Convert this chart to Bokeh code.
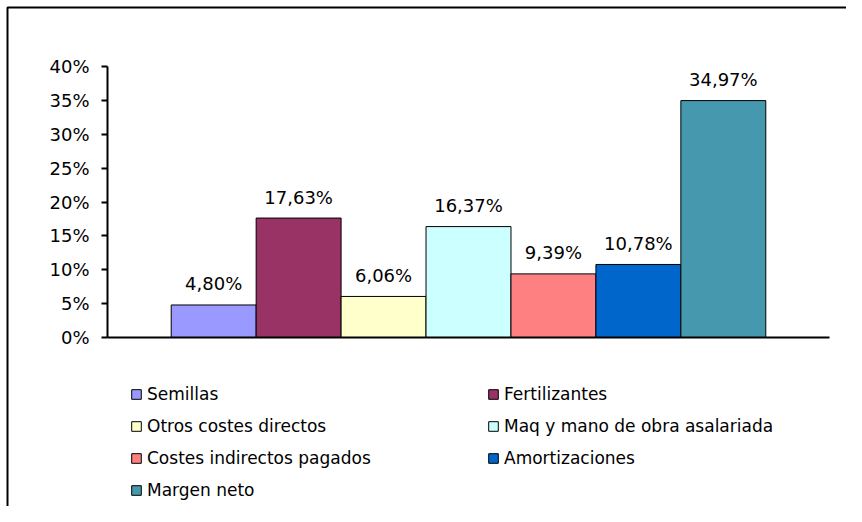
from bokeh.plotting import figure
from bokeh.models import (ColumnDataSource, Range1d, Legend, LegendItem, PrintfTickFormatter,
                          FixedTicker, LinearAxis, BoxAnnotation)
from bokeh.core.properties import value
from bokeh.embed import file_html
from bokeh.resources import INLINE

categories = ["Semillas", "Fertilizantes", "Otros costes directos",
              "Maq y mano de obra asalariada", "Costes indirectos pagados",
              "Amortizaciones", "Margen neto"]
values = [4.80, 17.63, 6.06, 16.37, 9.39, 10.78, 34.97]
labels = ["4,80%", "17,63%", "6,06%", "16,37%", "9,39%", "10,78%", "34,97%"]
colors = ["#9999FF", "#993366", "#FFFFCC", "#CCFFFF", "#FF8080", "#0066CC", "#4598AE"]
y_ticks = [0, 5, 10, 15, 20, 25, 30, 35, 40]

FONT = "DejaVu Sans"

# layout (pixels on the canvas)
W, H = 846, 506
PLOT_L, PLOT_R, PLOT_T, PLOT_B = 107, 829, 66, 337
Y_MAX = 40.0
X_SPAN = 8.5          # gap + 7 bars + gap, in bar widths
x_scale = (PLOT_R - PLOT_L) / X_SPAN
y_scale = (PLOT_B - PLOT_T) / Y_MAX

def px_x(px):
    return (px - PLOT_L) / x_scale

def px_y(py):
    return (PLOT_B - py) / y_scale

p = figure(width=W, height=H, output_backend="svg", toolbar_location=None,
           x_range=Range1d(px_x(0), px_x(W)), y_range=Range1d(px_y(H), px_y(0)),
           x_axis_location=None, y_axis_location=None,
           min_border=0, min_border_left=0, min_border_right=0,
           min_border_top=0, min_border_bottom=0)
p.outline_line_color = None
p.xgrid.visible = False
p.ygrid.visible = False
p.background_fill_color = "white"
p.border_fill_color = "white"

# outer chart border (top and left visible)
p.add_layout(BoxAnnotation(left=px_x(7), right=px_x(W + 50), top=px_y(7), bottom=px_y(H + 50),
                           fill_alpha=0, line_color="black", line_alpha=1.0, line_width=2))

gap = 0.75
xs = [gap + 0.5 + i for i in range(len(values))]
renderers = []
for i, (c, v, col) in enumerate(zip(categories, values, colors)):
    src = ColumnDataSource(dict(x=[xs[i]], top=[v], lab=[labels[i]]))
    r = p.vbar(x="x", top="top", width=1.0, bottom=0, source=src,
               fill_color=col, line_color="black", line_width=1)
    renderers.append(r)
    p.text(x="x", y="top", text="lab", source=src, text_align="center",
           text_baseline="middle", y_offset=-21, text_font=value(FONT),
           text_font_size="18px", text_color="black")

yaxis = LinearAxis(fixed_location=0, bounds=(0, Y_MAX))
yaxis.ticker = FixedTicker(ticks=y_ticks)
yaxis.formatter = PrintfTickFormatter(format="%d%%")
yaxis.minor_tick_line_color = None
yaxis.major_tick_in = 0
yaxis.major_tick_out = 6
yaxis.major_tick_line_width = 2
yaxis.axis_line_width = 2
yaxis.axis_line_color = "black"
yaxis.major_tick_line_color = "black"
yaxis.major_label_standoff = 12
yaxis.major_label_text_font = FONT
yaxis.major_label_text_font_size = "18px"
yaxis.major_label_text_color = "black"
p.add_layout(yaxis, "left")

xaxis = LinearAxis(fixed_location=0, bounds=(0, X_SPAN))
xaxis.ticker = FixedTicker(ticks=[])
xaxis.major_tick_line_color = None
xaxis.minor_tick_line_color = None
xaxis.axis_line_color = "black"
xaxis.axis_line_width = 2
p.add_layout(xaxis, "below")

def make_legend(idx, loc):
    return Legend(items=[LegendItem(label=categories[i], renderers=[renderers[i]]) for i in idx],
                  location=loc, orientation="vertical",
                  glyph_width=12, glyph_height=12, label_standoff=5,
                  label_height=20, spacing=12, padding=0, margin=0,
                  border_line_color=None, background_fill_alpha=0,
                  label_text_font=FONT, label_text_font_size="17px",
                  label_text_color="black")

p.add_layout(make_legend([0, 2, 4, 6], (130, 6)), "center")
p.add_layout(make_legend([1, 3, 5], (487, 38)), "center")

open("out.html", "w").write(file_html(p, INLINE))
